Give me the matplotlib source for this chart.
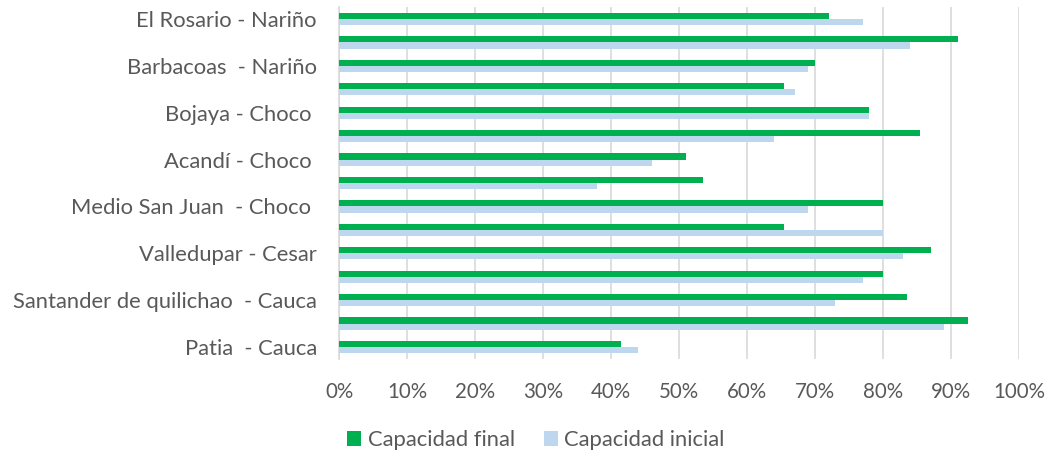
import matplotlib
matplotlib.use("Agg")
import matplotlib.pyplot as plt
import numpy as np
from matplotlib.ticker import FuncFormatter, MultipleLocator

categories = [
    "El Rosario - Nariño", "",
    "Barbacoas  - Nariño", "",
    "Bojaya - Choco ", "",
    "Acandí - Choco ", "",
    "Medio San Juan  - Choco ", "",
    "Valledupar - Cesar", "",
    "Santander de quilichao  - Cauca", "",
    "Patia  - Cauca",
]
capacidad_final = [72.0, 91.0, 70.0, 65.5, 78.0, 85.5, 51.0, 53.5, 80.0, 65.5, 87.0, 80.0, 83.5, 92.5, 41.5]
capacidad_inicial = [77.0, 84.0, 69.0, 67.0, 78.0, 64.0, 46.0, 38.0, 69.0, 80.0, 83.0, 77.0, 73.0, 89.0, 44.0]

plt.rcParams['font.family'] = ['Lato', 'DejaVu Sans']
txt = '#595959'

fig = plt.figure(figsize=(10.48, 4.58), dpi=100)
ax = fig.add_axes([339/1048, 1 - 358.7/458, (1019-339)/1048, (358.7-7.3)/458])

n = len(categories)
y = np.arange(n)
h = 0.26
fin = np.array(capacidad_final) / 100
ini = np.array(capacidad_inicial) / 100
ax.barh(y - h/2, fin, height=h, color='#00B050', label='Capacidad final', zorder=3)
ax.barh(y + h/2, ini, height=h, color='#BDD7EE', label='Capacidad inicial', zorder=3)

ax.set_ylim(n - 0.5, -0.5)
ax.set_xlim(0, 1)
ax.xaxis.set_major_locator(MultipleLocator(0.1))
ax.xaxis.set_major_formatter(FuncFormatter(lambda v, p: f"{v*100:.0f}%"))
ax.set_yticks(y)
ax.set_yticklabels(categories)
ax.grid(axis='x', color='#D9D9D9', linewidth=1.2, zorder=0)
ax.tick_params(axis='both', length=0, colors=txt)
ax.tick_params(axis='y', pad=16, labelsize=15.8)
ax.tick_params(axis='x', pad=17, labelsize=14.8)
for s in ['top', 'right', 'bottom']:
    ax.spines[s].set_visible(False)
ax.spines['left'].set_color('#D9D9D9')
ax.spines['left'].set_linewidth(1.2)

fig.legend(loc='center', bbox_to_anchor=(536/1048, 1 - 440/458), ncol=2, frameon=False,
           fontsize=15.8, labelcolor=txt, handlelength=0.65, handleheight=0.7,
           handletextpad=0.3, columnspacing=1.3)

fig.savefig('out.png', dpi=100)
